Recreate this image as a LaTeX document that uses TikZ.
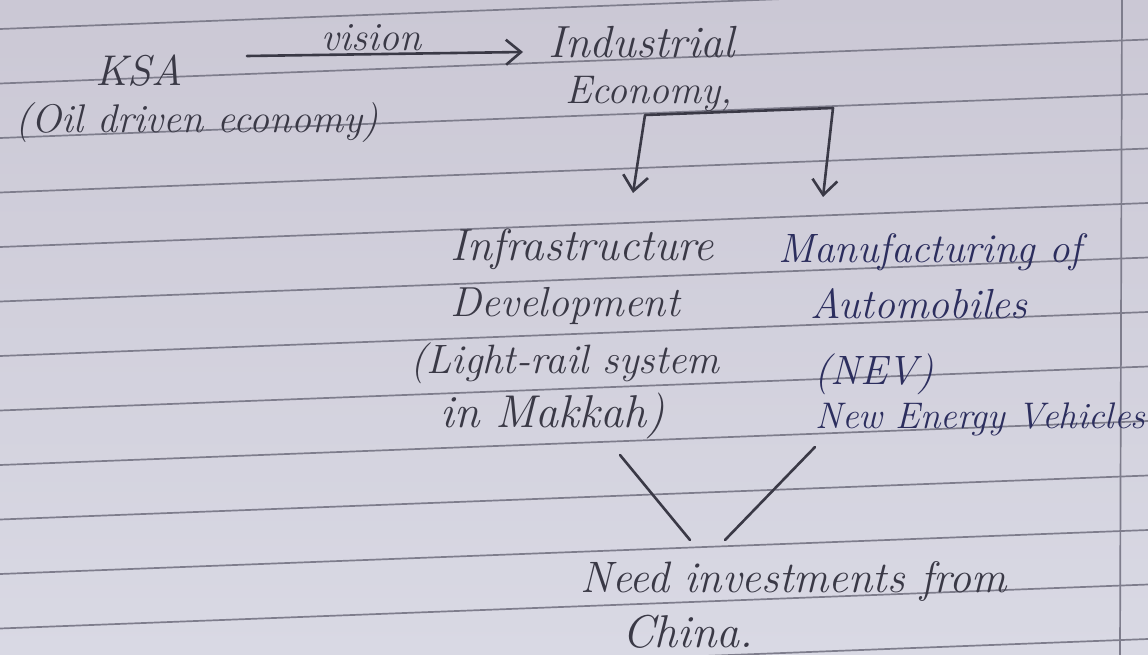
\documentclass[tikz,border=0pt]{standalone}
\usepackage{tikz}
\usepackage{xcolor}
\usetikzlibrary{arrows.meta}

\definecolor{papertop}{HTML}{CBC8D5}
\definecolor{paperbot}{HTML}{D9D9E4}
\definecolor{ruleline}{HTML}{7E7D8C}
\definecolor{pencilink}{HTML}{3A3946}
\definecolor{penink}{HTML}{2C2E5E}

\begin{document}
\begin{tikzpicture}[x=1pt,y=-1pt,
    pencil/.style={font=\fontsize{#1}{#1}\selectfont\itshape, text=pencilink, inner sep=0pt, anchor=base west},
    pencil/.default=42,
    pen/.style={pencil=#1, text=penink},
    pen/.default=42,
    rule/.style={draw=ruleline, line width=1.7pt},
    stroke/.style={draw=pencilink, line width=2.6pt, line cap=round, line join=round},
    barb/.tip={Straight Barb[length=15pt,width=25pt,line width=2.6pt]}]
    \useasboundingbox (0,0) rectangle (1148,655);
    % paper
    \shade[top color=papertop, bottom color=paperbot] (0,0) rectangle (1148,655);
    \foreach \k in {0,...,12}
        \draw[rule] (0,{29+54.5*\k}) -- (1148,{29+54.5*\k-44});
    \draw[rule] (1122,0) -- (1120,655);

    % top line
    \node[pencil=43] (ksa) at (95,86) {KSA};
    \node[pencil=40] (oil) at (15,133) {(Oil driven economy)};
    \node[pencil=45] (indus) at (548,58) {Industrial};
    \node[pencil=40] (econ) at (565,104) {Economy,};
    \coordinate (visL) at (247,56);
    \coordinate (visR) at (523,52);
    \draw[stroke, -barb] (visL) -- node[pencil=40, pos=0.45, anchor=base, yshift=4pt] (vision) {vision} (visR);

    % branches
    \coordinate (brL) at (645,115);
    \coordinate (brR) at (833,108);
    \coordinate (infTip) at (633,193);
    \coordinate (manTip) at (823,197);
    \draw[stroke, barb-barb] (infTip) -- (brL) -- (brR) -- (manTip);

    % left column
    \node[pencil=45] (infra) at (450,260) {Infrastructure};
    \node[pencil=42] (devel) at (450,316) {Development};
    \node[pencil=41] (rail) at (410,373) {(Light-rail system};
    \node[pencil=46] (makkah) at (440,427) {in Makkah)};

    % right column
    \node[pen=41] (manu) at (778,262) {Manufacturing of};
    \node[pen=42] (auto) at (810,318) {Automobiles};
    \node[pen=41] (nev) at (814,384) {(NEV)};
    \node[pen=37] (newen) at (815,428) {New Energy Vehicles};

    % join
    \coordinate (vL) at (620,455);
    \coordinate (vR) at (815,447);
    \coordinate (vLb) at (690,540);
    \coordinate (vRb) at (725,540);
    \draw[stroke] (vL) -- (vLb);
    \draw[stroke] (vR) -- (vRb);
    \node[pencil=44] (need) at (580,592) {Need investments from};
    \node[pencil=46] (china) at (622,647) {China.};
\end{tikzpicture}
\end{document}
